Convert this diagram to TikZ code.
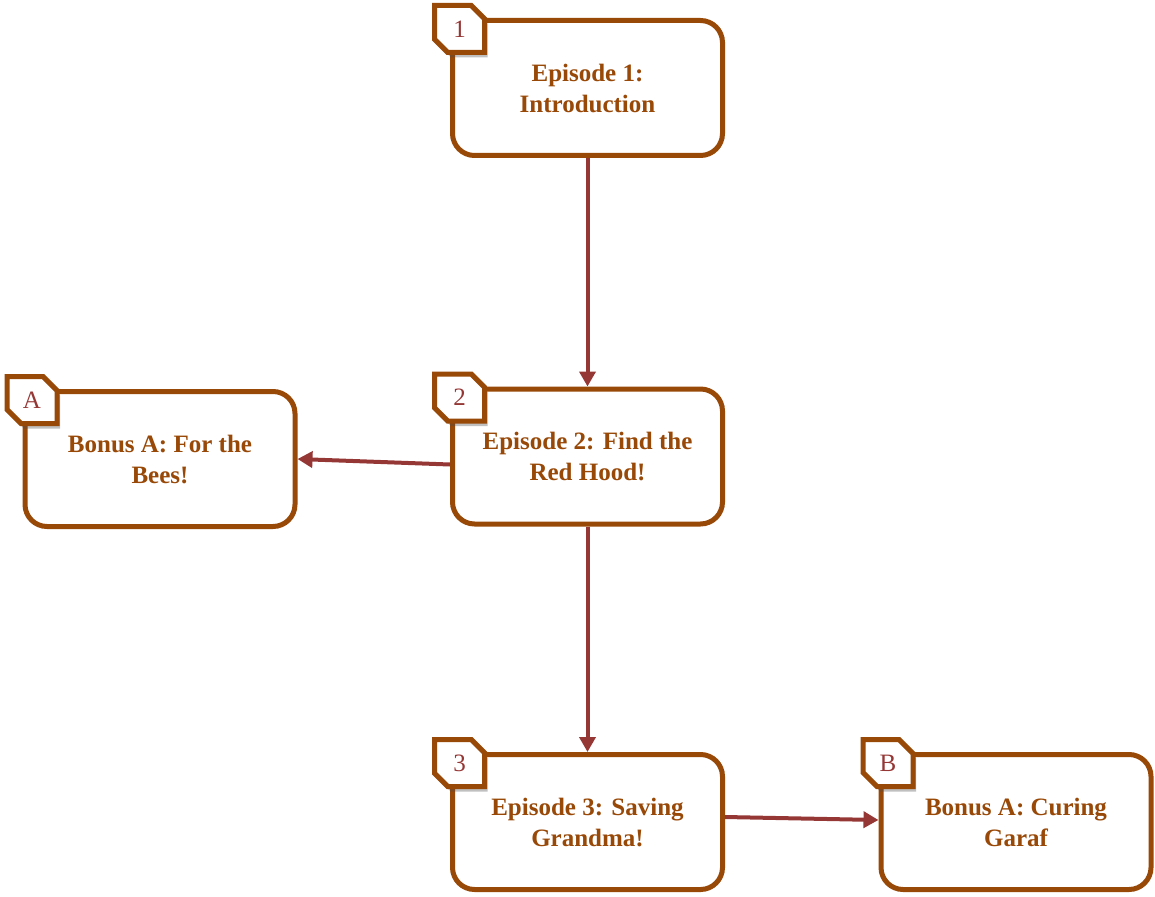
\documentclass[tikz,border=0pt]{standalone}
\usepackage{fontspec}
\setmainfont{Liberation Serif}
\usetikzlibrary{shapes.misc,shadows,calc,arrows.meta}
\definecolor{brn}{HTML}{984807}
\definecolor{arr}{HTML}{953735}
\tikzset{
  box/.style={draw=brn, line width=5pt, rounded corners=22pt, fill=white,
    minimum width=270pt, minimum height=135pt, align=center, text=brn,
    font=\fontsize{25}{31}\selectfont\bfseries, inner sep=0pt},
  tagbox/.style={chamfered rectangle, chamfered rectangle corners={north east,south west},
    chamfered rectangle xsep=7pt, chamfered rectangle ysep=7pt,
    draw=brn, line width=5pt, fill=white, minimum width=50pt, minimum height=47pt,
    inner sep=0pt, text=arr, font=\fontsize{25}{25}\selectfont,
    drop shadow={opacity=0.35, fill=black!70, shadow xshift=3pt, shadow yshift=-5pt}},
  conn/.style={draw=arr, line width=4pt, -{Triangle[length=15pt,width=16pt]}}
}
\begin{document}
\begin{tikzpicture}[x=1pt,y=-1pt]
\useasboundingbox (0,0) rectangle (1155,896);
\node[box] (e1) at (587.5,88) {Episode 1:\\Introduction};
\node[box] (e2) at (587.5,456.5) {Episode 2: Find the\\Red Hood!};
\node[box] (ba) at (160,459) {Bonus A: For the\\Bees!};
\node[box] (e3) at (587.5,822) {Episode 3: Saving\\Grandma!};
\node[box] (bb) at (1016,822) {Bonus A: Curing\\Garaf};
\node[tagbox] (t1) at ($(e1.north west)+(9.5,11)$) {1};
\node[tagbox] (t2) at ($(e2.north west)+(9.5,11)$) {2};
\node[tagbox] (ta) at ($(ba.north west)+(9.5,11)$) {A};
\node[tagbox] (t3) at ($(e3.north west)+(9.5,11)$) {3};
\node[tagbox] (tb) at ($(bb.north west)+(9.5,11)$) {B};
\draw[conn] (e1.south) -- (e2.north);
\draw[conn] (e2.south) -- (e3.north);
\draw[conn] ($(e2.west)+(0,8)$) -- (ba.east);
\draw[conn] ($(e3.east)+(0,-5)$) -- ($(bb.west)+(0,-2)$);
\end{tikzpicture}
\end{document}
